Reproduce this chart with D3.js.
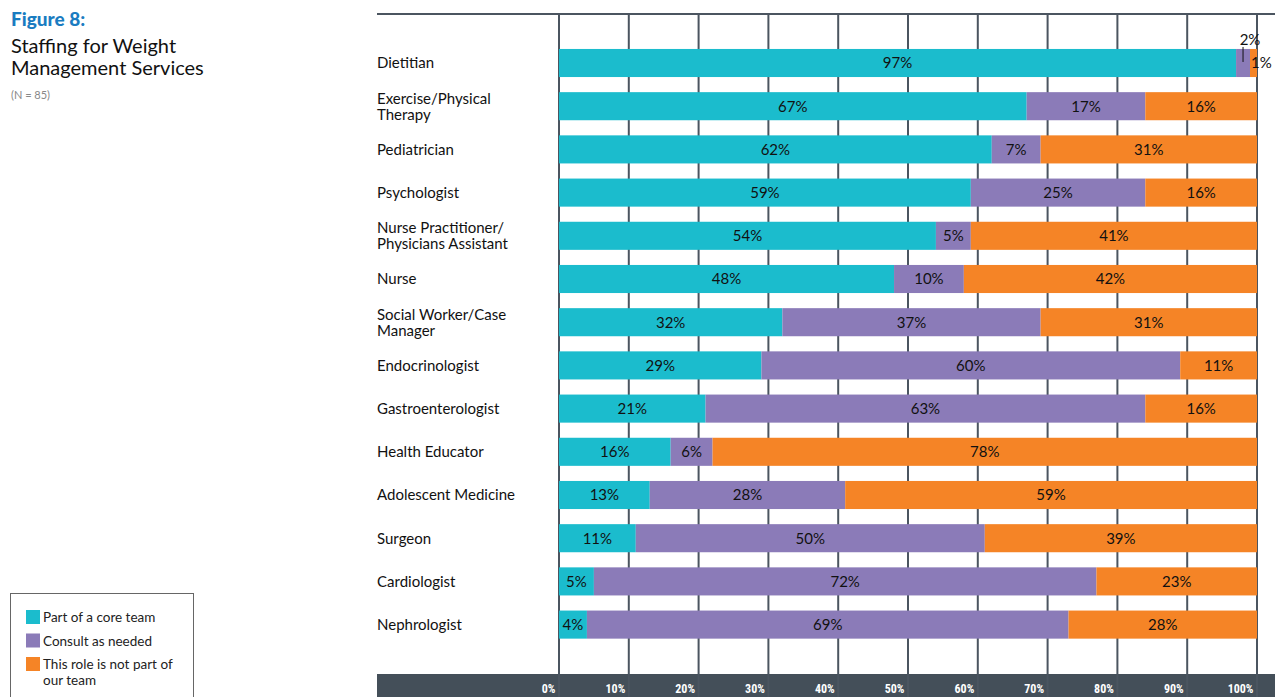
<!DOCTYPE html>
<html>
<head>
<meta charset="utf-8">
<script src="https://cdn.jsdelivr.net/npm/d3@7"></script>
<style>
  body { margin: 0; background: #fff; }
  svg { font-family: Lato, "Open Sans", sans-serif; }
</style>
</head>
<body>
<div id="chart"></div>
<script>
var categories = ["Dietitian", "Exercise/Physical\nTherapy", "Pediatrician", "Psychologist",
  "Nurse Practitioner/\nPhysicians Assistant", "Nurse", "Social Worker/Case\nManager",
  "Endocrinologist", "Gastroenterologist", "Health Educator", "Adolescent Medicine",
  "Surgeon", "Cardiologist", "Nephrologist"];
var coreTeam = [97, 67, 62, 59, 54, 48, 32, 29, 21, 16, 13, 11, 5, 4];
var consult  = [2, 17, 7, 25, 5, 10, 37, 60, 63, 6, 28, 50, 72, 69];
var notPart  = [1, 16, 31, 16, 41, 42, 31, 11, 16, 78, 59, 39, 23, 28];
var seriesNames = ["Part of a core team", "Consult as needed", "This role is not part of\nour team"];
var tickValues = [0, 10, 20, 30, 40, 50, 60, 70, 80, 90, 100];

var colors = ["#1bbccd", "#8b7bb8", "#f58426"];
var gridColor = "#4b5560";

var W = 1275, H = 697;
var svg = d3.select("#chart").append("svg").attr("width", W).attr("height", H);

var rows = categories.map(function (c, i) {
  return { cat: c, core: coreTeam[i], consult: consult[i], notPart: notPart[i] };
});
var keys = ["core", "consult", "notPart"];
var stacked = d3.stack().keys(keys)(rows);

// rounded shares can add up to 101, so keep bars inside the 100% line
var x = d3.scaleLinear().domain([0, 100]).range([559, 1257]).clamp(true);
var y = d3.scaleBand().domain(categories).range([41.4, 646.2]).paddingInner(0.35).paddingOuter(0.175);

// title block
svg.append("text").attr("x", 11).attr("y", 26).attr("fill", "#1a7cc1")
  .attr("font-size", 19).attr("font-weight", 900).text("Figure 8:");
svg.append("text").attr("x", 11).attr("y", 53).attr("fill", "#111")
  .attr("font-size", 20).text("Staffing for Weight");
svg.append("text").attr("x", 11).attr("y", 75).attr("fill", "#111")
  .attr("font-size", 20).text("Management Services");
svg.append("text").attr("x", 11).attr("y", 99).attr("fill", "#888")
  .attr("font-size", 11).text("(N = 85)");

// top rule
svg.append("line").attr("x1", 377).attr("x2", W).attr("y1", 14).attr("y2", 14)
  .attr("stroke", gridColor).attr("stroke-width", 2);

// bottom axis band
svg.append("rect").attr("x", 377).attr("y", 674).attr("width", W - 377).attr("height", H - 674)
  .attr("fill", "#444f59");

// gridlines
svg.append("g").selectAll("line").data(tickValues).enter().append("line")
  .attr("x1", function (d) { return x(d); }).attr("x2", function (d) { return x(d); })
  .attr("y1", 14).attr("y2", H)
  .attr("stroke", gridColor).attr("stroke-width", 2);

// axis labels
var axis = svg.append("g").attr("transform", "translate(0,674)")
  .call(d3.axisBottom(x).tickValues(tickValues).tickSize(0).tickFormat(function (d) { return d + "%"; }));
axis.select(".domain").remove();
axis.selectAll("text")
  .attr("text-anchor", "end").attr("dx", -4).attr("y", 10).attr("dy", "0.71em")
  .attr("fill", "#fff").attr("font-size", 12).attr("font-weight", "bold")
  .attr("font-family", "'Liberation Sans Narrow', 'Roboto Condensed', sans-serif");

// bars
var layers = svg.append("g").selectAll("g").data(stacked).enter().append("g")
  .attr("fill", function (d, i) { return colors[i]; });
layers.selectAll("rect").data(function (d) { return d; }).enter().append("rect")
  .attr("x", function (d) { return x(d[0]); })
  .attr("width", function (d) { return x(d[1]) - x(d[0]); })
  .attr("y", function (d) { return y(d.data.cat); })
  .attr("height", y.bandwidth());

// segment labels
var labels = [];
stacked.forEach(function (layer) {
  layer.forEach(function (d) {
    labels.push({ cat: d.data.cat, v: d[1] - d[0], a: d[0], b: d[1] });
  });
});
svg.append("g").selectAll("text").data(labels.filter(function (d) { return d.v >= 4; }))
  .enter().append("text")
  .attr("x", function (d) { return (x(d.a) + x(d.b)) / 2; })
  .attr("y", function (d) { return y(d.cat) + y.bandwidth() / 2; })
  .attr("dy", "0.36em").attr("text-anchor", "middle")
  .attr("font-size", 15).attr("fill", "#111")
  .text(function (d) { return d.v + "%"; });

// small callouts for the first row
var first = labels.filter(function (d) { return d.cat === categories[0] && d.v < 4; });
var c2 = first[0], c1 = first[1];
var cx2 = (x(c2.a) + x(c2.b)) / 2;
svg.append("line").attr("x1", cx2).attr("x2", cx2)
  .attr("y1", y(c2.cat) - 2).attr("y2", y(c2.cat) + 13).attr("stroke", "#111").attr("stroke-width", 1);
svg.append("text").attr("x", cx2 + 7).attr("y", y(c2.cat) - 4).attr("text-anchor", "middle")
  .attr("font-size", 15).attr("fill", "#111").text(c2.v + "%");
svg.append("text").attr("x", x(c1.b) - 6).attr("y", y(c1.cat) + y.bandwidth() / 2).attr("dy", "0.36em")
  .attr("font-size", 15).attr("fill", "#111").text(c1.v + "%");

// category labels
var catG = svg.append("g").selectAll("text").data(categories).enter().append("text")
  .attr("x", 377).attr("font-size", 15).attr("fill", "#111")
  .attr("transform", function (d) {
    var n = d.split("\n").length;
    return "translate(0," + (y(d) + y.bandwidth() / 2 - (n - 1) * 8) + ")";
  });
catG.selectAll("tspan").data(function (d) { return d.split("\n"); }).enter().append("tspan")
  .attr("x", 377).attr("y", function (d, i) { return i * 16; }).attr("dy", "0.36em")
  .text(function (d) { return d; });

// legend
svg.append("rect").attr("x", 10.5).attr("y", 593.5).attr("width", 183).attr("height", 110)
  .attr("fill", "none").attr("stroke", "#666").attr("stroke-width", 1);
var leg = svg.append("g").selectAll("g").data(seriesNames).enter().append("g")
  .attr("transform", function (d, i) { return "translate(26," + (610 + i * 23.5) + ")"; });
leg.append("rect").attr("width", 14).attr("height", 14).attr("fill", function (d, i) { return colors[i]; });
var lt = leg.append("text").attr("font-size", 13.5).attr("fill", "#222");
lt.selectAll("tspan").data(function (d) { return d.split("\n"); }).enter().append("tspan")
  .attr("x", 17).attr("y", function (d, i) { return 12 + i * 16; })
  .text(function (d) { return d; });
</script>
</body>
</html>
